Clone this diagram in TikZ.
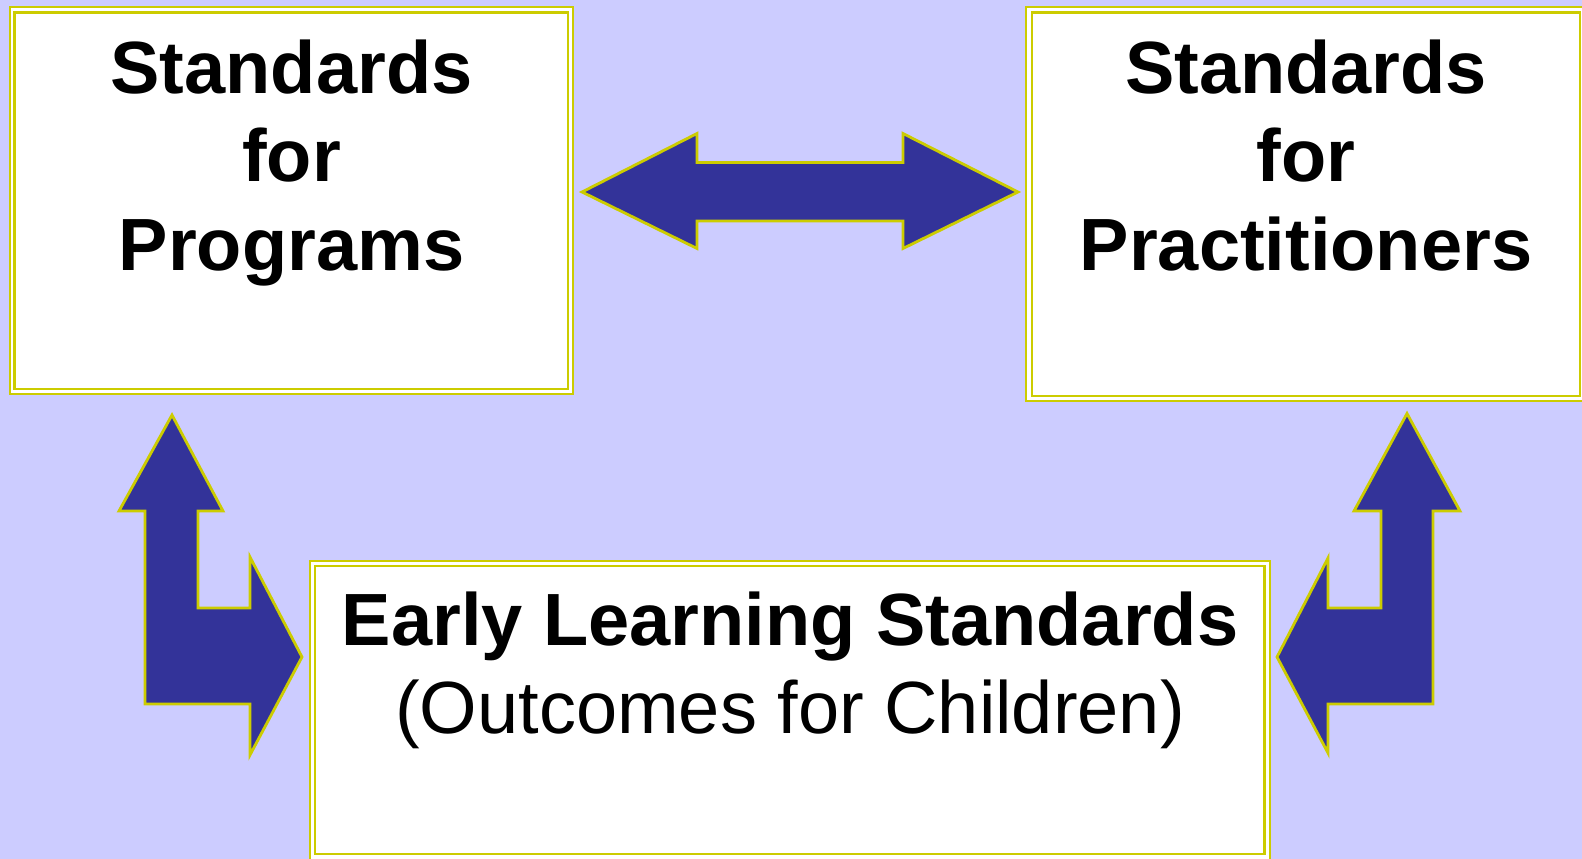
\documentclass[tikz,border=0pt]{standalone}
\usepackage{fontspec}
\setmainfont{Liberation Sans}
\definecolor{bgc}{HTML}{CCCCFF}
\definecolor{arrc}{HTML}{333399}
\definecolor{ylw}{HTML}{CCCC00}
\begin{document}
\begin{tikzpicture}[x=1pt,y=-1pt,
  outerbox/.style={draw=ylw,fill=white,line width=2.6pt},
  innerbox/.style={draw=ylw,line width=2.6pt},
  blockarrow/.style={draw=ylw,fill=arrc,line width=2.8pt,line join=miter},
  bigbold/.style={font=\fontsize{74}{88.5}\selectfont\bfseries,anchor=base,inner sep=0pt},
  bigreg/.style={font=\fontsize{74}{88.5}\selectfont,anchor=base,inner sep=0pt}]
\useasboundingbox (0,0) rectangle (1582,859);
\fill[bgc] (0,0) rectangle (1582,859);
% boxes
\draw[outerbox] (10,7) rectangle (573,394);
\draw[innerbox] (14.5,12.5) rectangle (568,389);
\draw[outerbox] (1026,7) rectangle (1590,401);
\draw[innerbox] (1032,12.5) rectangle (1580,396);
\draw[outerbox] (310,561) rectangle (1270,866);
\draw[innerbox] (315,566) rectangle (1264.5,854);
% labels
\node[bigbold] (p1) at (291.5,93) {Standards};
\node[bigbold] (p2) at (291.5,181.5) {for};
\node[bigbold] (p3) at (291.5,270) {Programs};
\node[bigbold] (q1) at (1306,93) {Standards};
\node[bigbold] (q2) at (1306,181.5) {for};
\node[bigbold] (q3) at (1306,270) {Practitioners};
\node[bigbold] (e1) at (790,645) {Early Learning Standards};
\node[bigreg] (e2) at (790,733) {(Outcomes for Children)};
% double horizontal arrow
\draw[blockarrow] (582,192) -- (697,133.5) -- (697,162.5) -- (903,162.5) -- (903,133.5)
  -- (1018,192) -- (903,248.5) -- (903,221) -- (697,221) -- (697,248.5) -- cycle;
% left L arrow
\draw[blockarrow] (172,415) -- (223,511) -- (198,511) -- (198,608) -- (250,608) -- (250,557)
  -- (302,657) -- (250,755) -- (250,704) -- (145,704) -- (145,511) -- (119,511) -- cycle;
% right L arrow
\draw[blockarrow] (1407,413.5) -- (1460,511) -- (1433,511) -- (1433,704) -- (1328,704) -- (1328,753)
  -- (1277,657) -- (1328,558) -- (1328,608) -- (1381,608) -- (1381,511) -- (1354,511) -- cycle;
\end{tikzpicture}
\end{document}
